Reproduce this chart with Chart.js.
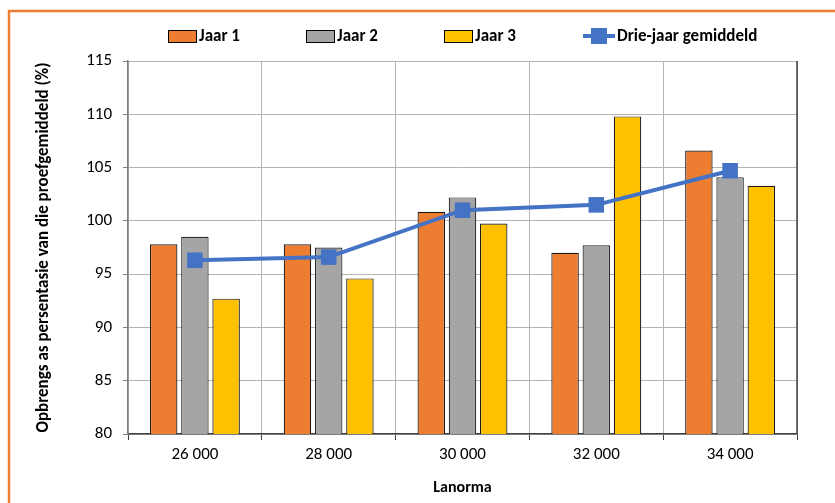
<!DOCTYPE html>
<html>
<head>
<meta charset="utf-8">
<script src="https://cdn.jsdelivr.net/npm/chart.js@4/dist/chart.umd.min.js"></script>
<style>
  html, body { margin: 0; padding: 0; background: #ffffff; }
  #wrap { width: 835px; height: 503px; position: relative; }
</style>
</head>
<body>
<div id="wrap"><canvas id="c" width="835" height="503"></canvas></div>
<script>
// Plant population categories and yield (% of trial mean) per season
const categories = ['26 000', '28 000', '30 000', '32 000', '34 000'];
const jaar1 = [97.8, 97.8, 100.85, 97.0, 106.6];
const jaar2 = [98.5, 97.5, 102.2, 97.7, 104.1];
const jaar3 = [92.7, 94.6, 99.75, 109.8, 103.3];
const gemiddeld = [96.3, 96.6, 101.0, 101.5, 104.7];
const yTicks = [80, 85, 90, 95, 100, 105, 110, 115];

const FONT = "Carlito, Lato, 'Liberation Sans', sans-serif";

// Outer frame plus the right edge of the plot area
const framePlugin = {
  id: 'frame',
  beforeDraw(chart) {
    const ctx = chart.ctx;
    ctx.save();
    ctx.fillStyle = '#ffffff';
    ctx.fillRect(0, 0, chart.width, chart.height);
    ctx.strokeStyle = '#ED7D31';
    ctx.lineWidth = 2.5;
    ctx.strokeRect(9, 11, 1000, 1000);
    ctx.restore();
  },
  afterDatasetsDraw(chart) {
    const a = chart.chartArea, ctx = chart.ctx;
    ctx.save();
    ctx.strokeStyle = '#404040';
    ctx.lineWidth = 1.5;
    ctx.beginPath();
    ctx.moveTo(a.right, a.top);
    ctx.lineTo(a.right, a.bottom);
    ctx.stroke();
    ctx.restore();
  }
};

// Legend row along the top
const legendPlugin = {
  id: 'topLegend',
  afterDraw(chart) {
    const ctx = chart.ctx;
    const y = 36;
    const xs = [168, 306, 444, 583];
    ctx.save();
    ctx.font = 'bold 17px ' + FONT;
    ctx.textBaseline = 'middle';
    chart.data.datasets.forEach((ds, i) => {
      const x = xs[i];
      if (ds.type === 'line') {
        ctx.strokeStyle = ds.borderColor;
        ctx.lineWidth = 4;
        ctx.beginPath();
        ctx.moveTo(x, y);
        ctx.lineTo(x + 32, y);
        ctx.stroke();
        ctx.fillStyle = ds.backgroundColor;
        ctx.fillRect(x + 8, y - 8, 16, 16);
        ctx.fillStyle = '#000';
        ctx.fillText(ds.label, x + 34, y + 1);
      } else {
        ctx.fillStyle = ds.backgroundColor;
        ctx.fillRect(x, y - 6, 29, 13);
        ctx.strokeStyle = '#000';
        ctx.lineWidth = 1;
        ctx.strokeRect(x + 0.5, y - 5.5, 28, 12);
        ctx.fillStyle = '#000';
        ctx.fillText(ds.label, x + 31, y + 1);
      }
    });
    ctx.restore();
  }
};

new Chart(document.getElementById('c'), {
  data: {
    labels: categories,
    datasets: [
      { type: 'bar', label: 'Jaar 1', data: jaar1, backgroundColor: '#ED7D31', borderColor: '#1a1a1a', borderWidth: 1.2, order: 2 },
      { type: 'bar', label: 'Jaar 2', data: jaar2, backgroundColor: '#A5A5A5', borderColor: '#2a2a2a', borderWidth: 1.2, order: 2 },
      { type: 'bar', label: 'Jaar 3', data: jaar3, backgroundColor: '#FFC000', borderColor: '#1a1a1a', borderWidth: 1.2, order: 2 },
      { type: 'line', label: 'Drie-jaar gemiddeld', data: gemiddeld, borderColor: '#4472C4', backgroundColor: '#4472C4',
        borderWidth: 4, pointStyle: 'rect', pointRadius: 11, pointHoverRadius: 11, pointBorderWidth: 0, tension: 0, order: 1 }
    ]
  },
  options: {
    responsive: false,
    animation: false,
    devicePixelRatio: 1,
    layout: { padding: { top: 61, left: 30, right: 38, bottom: 3 } },
    datasets: { bar: { categoryPercentage: 0.7, barPercentage: 0.88 } },
    plugins: { legend: { display: false }, tooltip: { enabled: false } },
    scales: {
      x: {
        grid: { color: '#b4b4b4', lineWidth: 1, offset: true, tickLength: 6, tickColor: '#404040' },
        border: { color: '#404040', width: 1.5 },
        ticks: { color: '#000', font: { family: FONT, size: 17 }, padding: 5 },
        title: { display: true, text: 'Lanorma', color: '#000', font: { family: FONT, size: 16, weight: 'bold' }, padding: { top: 4, bottom: 2 } },
        afterFit(scale) { scale.height = 66; }
      },
      y: {
        min: 80, max: 115,
        afterBuildTicks(scale) { scale.ticks = yTicks.map(v => ({ value: v })); },
        grid: { color: '#b4b4b4', lineWidth: 1, tickLength: 5, tickColor: '#7f7f7f' },
        border: { color: '#7f7f7f', width: 1.5 },
        ticks: { color: '#000', font: { family: FONT, size: 17 }, padding: 11 },
        title: { display: true, text: 'Opbrengs as persentasie van die proefgemiddeld (%)', color: '#000', font: { family: FONT, size: 17, weight: 'bold' }, padding: { top: 4, bottom: 4 } },
        afterFit(scale) { scale.width = 98; }
      }
    }
  },
  plugins: [framePlugin, legendPlugin]
});
</script>
</body>
</html>
